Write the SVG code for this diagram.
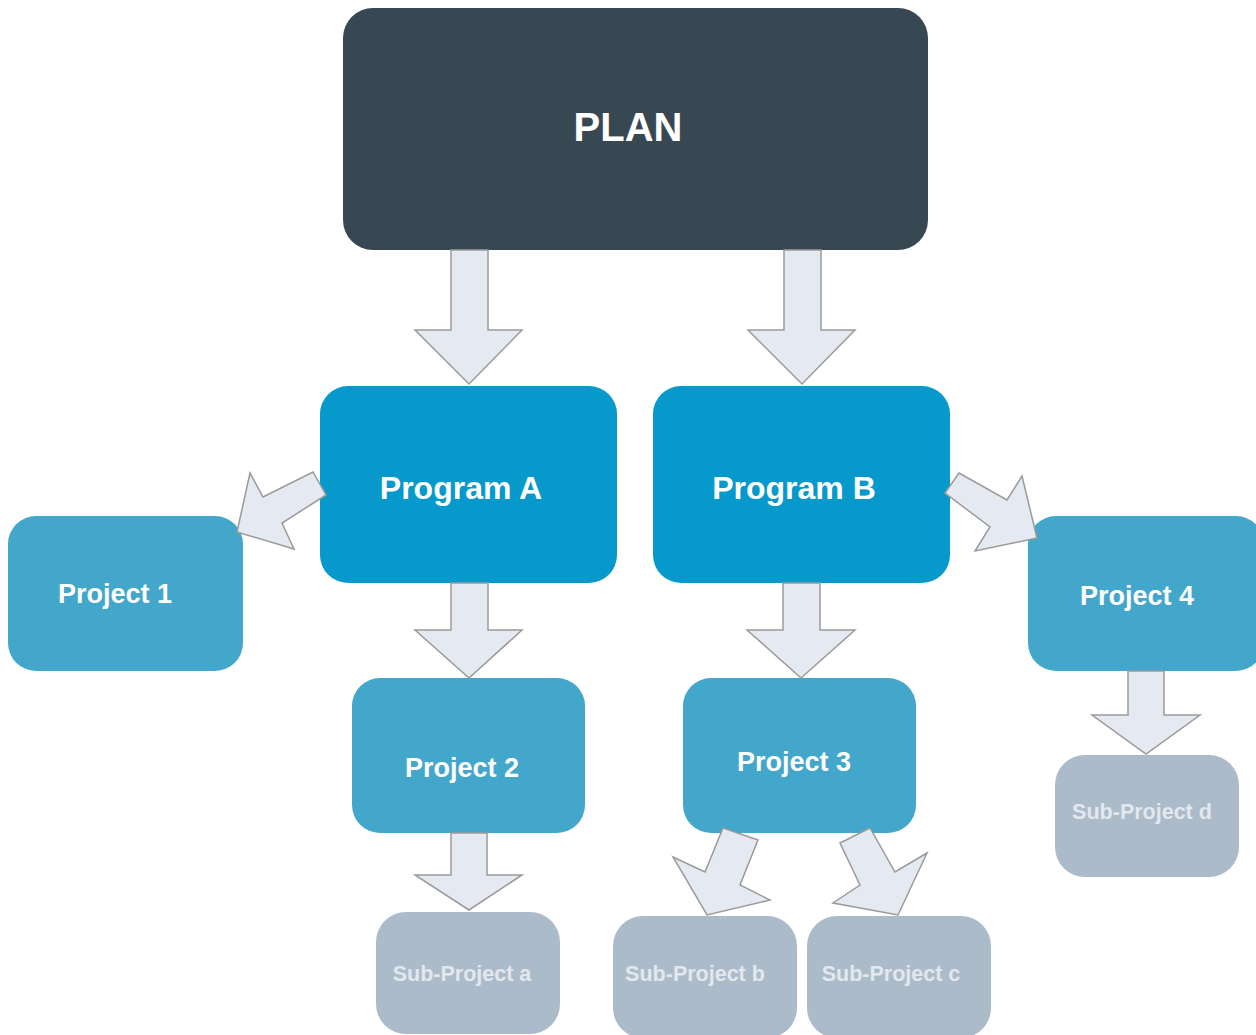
<svg xmlns="http://www.w3.org/2000/svg" width="1256" height="1035" viewBox="0 0 1256 1035">
<style>
text{font-family:"Liberation Sans",Arial,sans-serif;font-weight:bold;text-anchor:middle}
.plan{fill:#384853}
.prog{fill:#0799cc}
.proj{fill:#43a6cb}
.sub{fill:#acbbca}
.t1{fill:#fff;font-size:40px}
.t2{fill:#fff;font-size:32px}
.t3{fill:#fff;font-size:27px}
.t4{fill:#e2e8ee;font-size:21.5px}
.arr{fill:#e4e9f2;stroke:#9a9a9a;stroke-width:1.5;stroke-linejoin:miter}
</style>
<rect width="1256" height="1035" fill="#fff"/>
<g id="plan"><rect class="plan" x="343" y="8" width="585" height="242" rx="30"/><text class="t1" x="628" y="141">PLAN</text></g>
<g id="programA"><rect class="prog" x="320" y="386" width="297" height="197" rx="28"/><text class="t2" x="461" y="499">Program A</text></g>
<g id="programB"><rect class="prog" x="653" y="386" width="297" height="197" rx="28"/><text class="t2" x="794" y="499">Program B</text></g>
<g id="project1"><rect class="proj" x="8" y="516" width="235" height="155" rx="28"/><text class="t3" x="115" y="603">Project 1</text></g>
<g id="project4"><rect class="proj" x="1028" y="516" width="236" height="155" rx="28"/><text class="t3" x="1137" y="605">Project 4</text></g>
<g id="project2"><rect class="proj" x="352" y="678" width="233" height="155" rx="28"/><text class="t3" x="462" y="777">Project 2</text></g>
<g id="project3"><rect class="proj" x="683" y="678" width="233" height="155" rx="28"/><text class="t3" x="794" y="771">Project 3</text></g>
<g id="subA"><rect class="sub" x="376" y="912" width="184" height="122" rx="30"/><text class="t4" x="462" y="981">Sub-Project a</text></g>
<g id="subB"><rect class="sub" x="613" y="916" width="184" height="122" rx="30"/><text class="t4" x="695" y="981">Sub-Project b</text></g>
<g id="subC"><rect class="sub" x="807" y="916" width="184" height="122" rx="30"/><text class="t4" x="891" y="981">Sub-Project c</text></g>
<g id="subD"><rect class="sub" x="1055" y="755" width="184" height="122" rx="30"/><text class="t4" x="1142" y="819">Sub-Project d</text></g>
<g id="connectors">
<polygon class="arr" points="451,250 488,250 488,330 522,330 469,384 415,330 451,330"/>
<polygon class="arr" points="784,250 821,250 821,330 855,330 802,384 748,330 784,330"/>
<polygon class="arr" points="451,583 488,583 488,630 522,630 469,678 415,630 451,630"/>
<polygon class="arr" points="783,583 820,583 820,630 855,630 801,678 747,630 783,630"/>
<polygon class="arr" points="451,833 487,833 487,875 522,875 469,910 415,875 451,875"/>
<polygon class="arr" points="1128,671 1164,671 1164,715 1200,715 1146,754 1092,715 1128,715"/>
<polygon class="arr" points="326,495 282,523 294,549 237,532 250,473 263,497 313,472"/>
<polygon class="arr" points="959,473 1007,500 1022,476 1037,538 975,551 990,527 945,493"/>
<polygon class="arr" points="723,828 758,840 740,885 770,900 707,915 673,857 705,872"/>
<polygon class="arr" points="840,843 870,828 895,872 927,853 898,915 833,903 860,885"/>
</g>
</svg>
